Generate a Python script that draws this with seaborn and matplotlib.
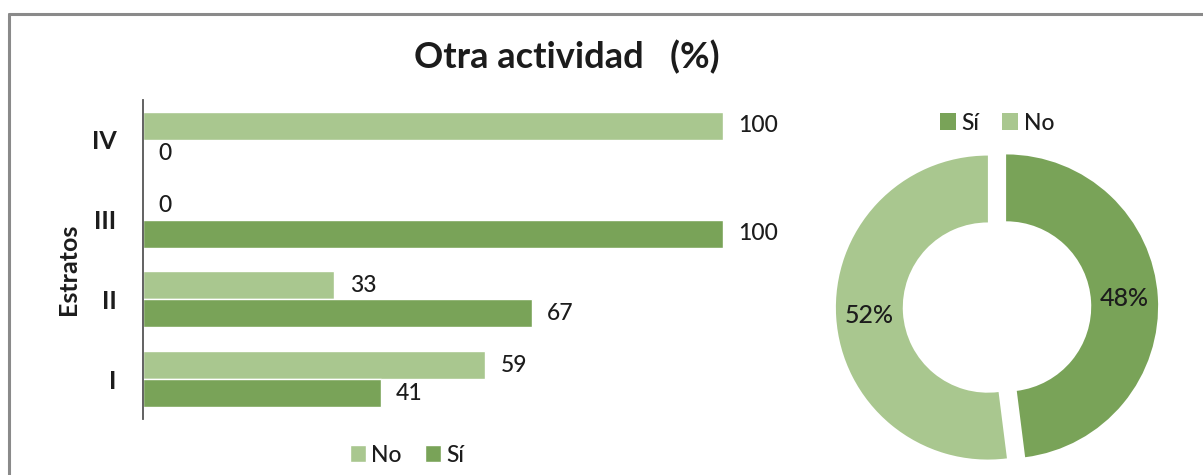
import pandas as pd
import matplotlib.pyplot as plt
import seaborn as sns
from matplotlib.lines import Line2D

# Data
estratos = ["IV", "III", "II", "I"]
pct_no = [100, 0, 33, 59]
pct_si = [0, 100, 67, 41]
donut_labels = ["Sí", "No"]
donut_values = [48, 52]

LIGHT = "#a9c78f"
DARK = "#79a358"
TEXT = "#1c1c1c"

df = pd.DataFrame({
    "Estrato": estratos * 2,
    "Respuesta": ["No"] * len(estratos) + ["Sí"] * len(estratos),
    "Porcentaje": pct_no + pct_si,
})

sns.set_theme(style="white")
plt.rcParams["font.family"] = ["Lato", "DejaVu Sans"]

W, H = 1203, 475
fig = plt.figure(figsize=(W / 100, H / 100), dpi=100)


def px_axes(x0, y0, x1, y1):
    # axes from pixel box (top-left origin)
    return fig.add_axes([x0 / W, 1 - y1 / H, (x1 - x0) / W, (y1 - y0) / H])


# Horizontal grouped bars
ax = px_axes(143, 100, 723, 419)
sns.barplot(
    data=df, y="Estrato", x="Porcentaje", hue="Respuesta",
    order=estratos, hue_order=["No", "Sí"],
    palette={"No": LIGHT, "Sí": DARK}, width=0.7, orient="h",
    saturation=1, ax=ax,
)
ax.set_xlim(0, 100)
ax.set_xticks([])
ax.set_xlabel("")
ax.set_ylabel("Estratos", fontsize=18, fontweight="bold", color=TEXT)
ax.yaxis.set_label_coords(-0.108, 0.47)
ax.tick_params(axis="y", length=0, pad=19, labelsize=18, labelcolor=TEXT)
for lbl in ax.get_yticklabels():
    lbl.set_fontweight("bold")
for side in ["top", "right", "bottom"]:
    ax.spines[side].set_visible(False)
ax.spines["left"].set_color("#555555")
ax.spines["left"].set_linewidth(1.3)
for cont in ax.containers:
    ax.bar_label(cont, padding=11, fontsize=16.5, fontweight="medium",
                 color=TEXT, clip_on=False)

leg = ax.legend(
    loc="center", bbox_to_anchor=(407 / W, 1 - 455 / H), bbox_transform=fig.transFigure,
    ncol=2, frameon=False, handlelength=0.7, handleheight=0.7,
    handletextpad=0.25, columnspacing=1.0,
    prop={"size": 16.5, "weight": "medium"},
)
for t in leg.get_texts():
    t.set_color(TEXT)

# Title
fig.text(567 / W, 1 - 57 / H, "Otra actividad   (%)", ha="center", va="center",
         fontsize=26, fontweight="bold", color=TEXT)

# Donut
cx, cy, half = 997, 307, 175
ax2 = px_axes(cx - half, cy - half, cx + half, cy + half)
scale = half / 152.0
wedges, _, autotexts = ax2.pie(
    donut_values, colors=[DARK, LIGHT], startangle=90, counterclock=False,
    explode=[0.06, 0.06], radius=1.0, autopct="%d%%", pctdistance=0.78,
    wedgeprops={"width": 0.44, "edgecolor": "none"},
    textprops={"fontsize": 18, "color": TEXT, "fontweight": "medium"},
)
ax2.set_xlim(-scale, scale)
ax2.set_ylim(-scale, scale)
ax2.set_aspect("equal")
ax2.axis("off")
leg2 = ax2.legend(
    wedges, donut_labels, loc="center", bbox_to_anchor=(997 / W, 1 - 123 / H),
    bbox_transform=fig.transFigure, ncol=2, frameon=False,
    handlelength=0.7, handleheight=0.7, handletextpad=0.25, columnspacing=1.0,
    prop={"size": 16.5, "weight": "medium"},
)
for t in leg2.get_texts():
    t.set_color(TEXT)

# Outer frame (top and left edges visible in the crop)
fig.add_artist(Line2D([9 / W, 1], [1 - 14 / H, 1 - 14 / H], color="#8a8a8a", lw=2.2))
fig.add_artist(Line2D([9 / W, 9 / W], [0, 1 - 14 / H], color="#8a8a8a", lw=2.2))

fig.savefig("out.png", dpi=100)
